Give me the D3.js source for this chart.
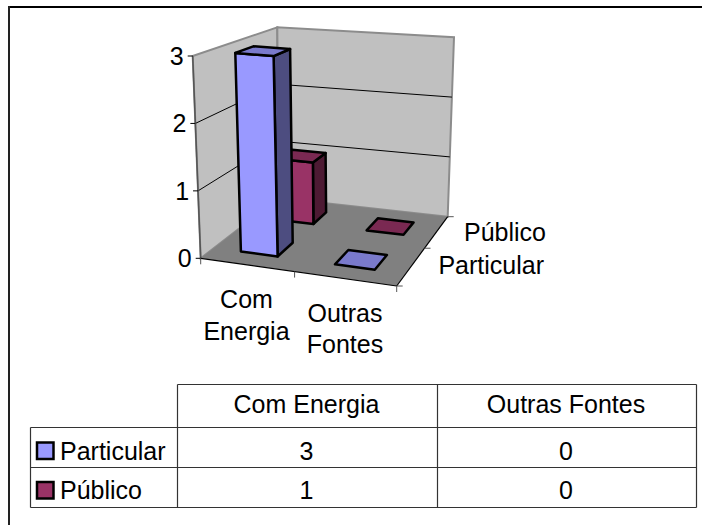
<!DOCTYPE html>
<html>
<head>
<meta charset="utf-8">
<script src="https://cdn.jsdelivr.net/npm/d3@7"></script>
<style>
  html, body { margin: 0; padding: 0; background: #fff; }
  svg { display: block; }
  text { font-family: "Liberation Sans", Arial, sans-serif; fill: #000; }
</style>
</head>
<body>
<div id="chart"></div>
<script>
const categories = ["Com Energia", "Outras Fontes"];
const seriesNames = ["Particular", "Público"];
const particular = [3, 0];
const publico = [1, 0];
const yTicks = [0, 1, 2, 3];

const width = 702, height = 525;
const fontSize = 25;
const colors = {
  "Particular": { front: "#9999ff", side: "#4d4d80", top: "#7a7acc" },
  "Público": { front: "#993366", side: "#4d1a33", top: "#7a2952" }
};

const svg = d3.select("#chart").append("svg")
  .attr("width", width).attr("height", height)
  .attr("viewBox", `0 0 ${width} ${height}`);

const seg = (g, a, b, stroke, w) => g.append("line")
  .attr("x1", a[0]).attr("y1", a[1]).attr("x2", b[0]).attr("y2", b[1])
  .attr("stroke", stroke).attr("stroke-width", w);

// 外框: only top and left edges are inside the picture
seg(svg, [8, 7], [702, 7], "#000", 2);
seg(svg, [9, 6], [9, 525], "#222", 2);

// 3D box corners
const floorCorners = [[200.7, 258.3], [396.7, 286], [447.7, 216.7], [278.5, 198]];
const topCorners = [[192.7, 56], [410, 75], [454, 37.3], [277.3, 27.3]];

// unit square -> quad
function homography(q) {
  const [[x0, y0], [x1, y1], [x2, y2], [x3, y3]] = q;
  const dx1 = x1 - x2, dx2 = x3 - x2, sx = x0 - x1 + x2 - x3;
  const dy1 = y1 - y2, dy2 = y3 - y2, sy = y0 - y1 + y2 - y3;
  const det = dx1 * dy2 - dx2 * dy1;
  const g = (sx * dy2 - dx2 * sy) / det;
  const h = (dx1 * sy - sx * dy1) / det;
  const a = x1 - x0 + g * x1, b = x3 - x0 + h * x3;
  const d = y1 - y0 + g * y1, e = y3 - y0 + h * y3;
  return (u, v) => {
    const w = g * u + h * v + 1;
    return [(a * u + b * v + x0) / w, (d * u + e * v + y0) / w];
  };
}
const floorAt = homography(floorCorners);
const topAt = homography(topCorners);

const uScale = d3.scaleBand().domain(categories).range([0, 1]).paddingInner(0.6).paddingOuter(0.3);
const vScale = d3.scaleBand().domain(seriesNames).range([0, 1]).paddingInner(0.6).paddingOuter(0.3);
const yScale = d3.scaleLinear().domain([0, 3]).range([0, 1]);

function project(u, v, val) {
  const a = floorAt(u, v), b = topAt(u, v), t = yScale(val);
  return [a[0] + (b[0] - a[0]) * t, a[1] + (b[1] - a[1]) * t];
}
const poly = pts => "M" + pts.map(p => p.map(n => n.toFixed(1)).join(",")).join("L") + "Z";

// walls and floor
const walls = svg.append("g");
walls.append("path").attr("d", poly([project(0, 0, 0), project(0, 1, 0), project(0, 1, 3), project(0, 0, 3)]))
  .attr("fill", "#c0c0c0").attr("stroke", "#8c8c8c").attr("stroke-width", 2);
walls.append("path").attr("d", poly([project(0, 1, 0), project(1, 1, 0), project(1, 1, 3), project(0, 1, 3)]))
  .attr("fill", "#c0c0c0").attr("stroke", "#8c8c8c").attr("stroke-width", 2);
walls.append("path").attr("d", poly([project(0, 0, 0), project(1, 0, 0), project(1, 1, 0), project(0, 1, 0)]))
  .attr("fill", "#808080");

// gridlines
yTicks.filter(t => t > 0 && t < 3).forEach(t => {
  seg(walls, project(0, 0, t), project(0, 1, t), "#000", 1);
  seg(walls, project(0, 1, t), project(1, 1, t), "#000", 1);
});

// axes
const axes = svg.append("g");
seg(axes, project(0, 0, 0), project(0, 0, 3), "#555", 1.5);
seg(axes, project(0, 0, 0), project(1, 0, 0), "#000", 1.2);
seg(axes, project(1, 0, 0), project(1, 1, 0), "#000", 1.2);
yTicks.forEach(t => {
  const p = project(0, 0, t);
  seg(axes, [p[0] - 5, p[1]], p, "#000", 1);
  axes.append("text").attr("x", p[0] - 9).attr("y", p[1] + 9)
    .attr("text-anchor", "end").attr("font-size", fontSize).text(t);
});
[0, 0.5, 1].forEach(u => {
  const p = project(u, 0, 0);
  seg(axes, p, [p[0], p[1] + 6], "#555", 1);
});
[0, 0.5, 1].forEach(v => {
  const p = project(1, v, 0);
  seg(axes, p, [p[0] + 6, p[1]], "#555", 1);
});

// bars, back series first
const rows = [{ name: "Público", values: publico }, { name: "Particular", values: particular }];
const bars = svg.append("g");
rows.forEach(row => {
  const c = colors[row.name];
  const v0 = vScale(row.name), v1 = v0 + vScale.bandwidth();
  categories.forEach((cat, i) => {
    const u0 = uScale(cat), u1 = u0 + uScale.bandwidth(), val = row.values[i];
    const g = bars.append("g").attr("stroke", "#000").attr("stroke-width", 2.5).attr("stroke-linejoin", "round");
    if (val > 0) {
      g.append("path").attr("d", poly([project(u1, v0, 0), project(u1, v1, 0), project(u1, v1, val), project(u1, v0, val)])).attr("fill", c.side);
      g.append("path").attr("d", poly([project(u0, v0, 0), project(u1, v0, 0), project(u1, v0, val), project(u0, v0, val)])).attr("fill", c.front);
    }
    g.append("path").attr("d", poly([project(u0, v0, val), project(u1, v0, val), project(u1, v1, val), project(u0, v1, val)])).attr("fill", c.top);
  });
});

// category labels
const labels = svg.append("g").attr("font-size", fontSize).attr("text-anchor", "middle");
[["Com", "Energia"], ["Outras", "Fontes"]].forEach((lines, i) => {
  const cx = [246.5, 345][i], y0 = [308, 321.5][i];
  lines.forEach((l, j) => labels.append("text").attr("x", cx).attr("y", y0 + j * 31.7).text(l));
});
svg.append("text").attr("x", 546).attr("y", 240.5).attr("text-anchor", "end").attr("font-size", fontSize).text(seriesNames[1]);
svg.append("text").attr("x", 544).attr("y", 274).attr("text-anchor", "end").attr("font-size", fontSize).text(seriesNames[0]);

// data table
const tableX = [30.5, 177.5, 437.5, 696.5];
const tableY = [384.5, 427.5, 467.5, 507.5];
const table = svg.append("g");
const tableStroke = "#333";
seg(table, [tableX[1], tableY[0]], [tableX[3], tableY[0]], tableStroke, 1.2);
seg(table, [tableX[0], tableY[1]], [tableX[3], tableY[1]], tableStroke, 1.2);
seg(table, [tableX[0], tableY[2]], [tableX[3], tableY[2]], tableStroke, 1.2);
seg(table, [tableX[0], tableY[3]], [tableX[3], tableY[3]], tableStroke, 1.2);
seg(table, [tableX[0], tableY[1]], [tableX[0], tableY[3]], tableStroke, 1.2);
seg(table, [tableX[1], tableY[0]], [tableX[1], tableY[3]], tableStroke, 1.2);
seg(table, [tableX[2], tableY[0]], [tableX[2], tableY[3]], tableStroke, 1.2);
seg(table, [tableX[3], tableY[0]], [tableX[3], tableY[3]], tableStroke, 1.2);

categories.forEach((cat, i) => {
  table.append("text").attr("x", (tableX[i + 1] + tableX[i + 2]) / 2 - 1).attr("y", 413)
    .attr("text-anchor", "middle").attr("font-size", fontSize).text(cat);
});
[particular, publico].forEach((vals, r) => {
  const y = [459.5, 499][r];
  const name = seriesNames[r];
  table.append("rect").attr("x", 37).attr("y", y - 17).attr("width", 16.5).attr("height", 16.5)
    .attr("fill", colors[name].front).attr("stroke", "#000").attr("stroke-width", 2.5);
  table.append("text").attr("x", 60).attr("y", y).attr("font-size", fontSize).text(name);
  vals.forEach((v, i) => {
    table.append("text").attr("x", (tableX[i + 1] + tableX[i + 2]) / 2 - 1).attr("y", y)
      .attr("text-anchor", "middle").attr("font-size", fontSize).text(v);
  });
});
</script>
</body>
</html>
